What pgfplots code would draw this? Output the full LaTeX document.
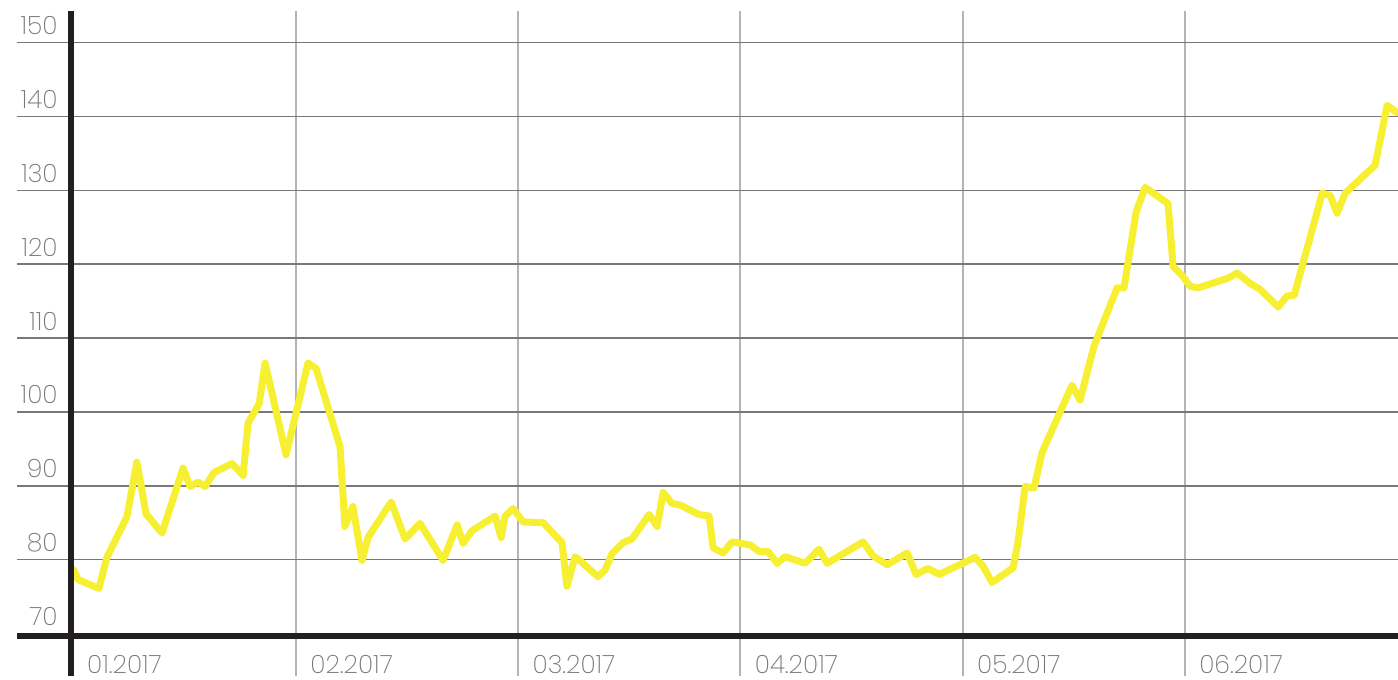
\documentclass[border=0pt]{standalone}
\usepackage{fontspec}
\setmainfont{Poppins}[UprightFont=* ExtraLight]
\usepackage{pgfplots}
\pgfplotsset{compat=1.18}
\definecolor{lineyellow}{RGB}{247,239,50}
\definecolor{axisblack}{RGB}{35,31,32}
\definecolor{hgrid}{RGB}{120,120,120}
\definecolor{vgrid}{RGB}{180,180,180}
\definecolor{labelgray}{RGB}{120,120,120}
\tikzset{lbl/.style={font=\fontsize{12.6pt}{15pt}\selectfont, text=labelgray, inner sep=0pt}}
\pgfplotstableread{
x y
0.000 78.6
0.019 77.3
0.113 76.1
0.149 80.3
0.239 85.8
0.284 93.2
0.325 86.2
0.397 83.6
0.492 92.4
0.523 89.9
0.559 90.5
0.591 89.9
0.631 91.8
0.712 93.0
0.762 91.4
0.784 98.5
0.834 101.1
0.861 106.6
0.955 94.2
1.054 106.6
1.090 105.9
1.198 95.3
1.220 84.5
1.256 87.2
1.297 79.9
1.324 83.0
1.428 87.8
1.491 82.8
1.558 84.9
1.662 79.9
1.725 84.7
1.752 82.2
1.792 83.9
1.896 85.9
1.923 83.0
1.941 85.9
1.977 86.9
2.022 85.1
2.112 85.0
2.197 82.3
2.219 76.4
2.256 80.4
2.359 77.7
2.391 78.6
2.422 80.8
2.472 82.3
2.512 82.8
2.589 86.1
2.625 84.5
2.652 89.1
2.692 87.6
2.728 87.4
2.814 86.1
2.859 85.9
2.877 81.6
2.922 80.9
2.962 82.4
3.043 82.0
3.084 81.1
3.124 81.1
3.165 79.5
3.201 80.4
3.290 79.5
3.353 81.4
3.390 79.5
3.552 82.4
3.597 80.5
3.660 79.3
3.750 80.9
3.790 78.0
3.844 78.8
3.894 78.0
4.056 80.3
4.092 79.1
4.132 76.9
4.227 78.9
4.249 82.4
4.281 89.9
4.321 89.7
4.357 94.5
4.492 103.6
4.528 101.6
4.591 108.9
4.695 116.8
4.726 116.8
4.780 127.0
4.821 130.4
4.924 128.2
4.947 119.7
4.987 118.5
5.023 117.0
5.060 116.8
5.194 118.1
5.235 118.8
5.298 117.3
5.338 116.6
5.420 114.2
5.460 115.7
5.492 115.8
5.618 129.6
5.654 129.3
5.685 126.9
5.721 129.6
5.856 133.4
5.910 141.5
5.955 140.5
}\pricedata
\begin{document}
\begin{tikzpicture}
\useasboundingbox (-35.5pt,-22pt) rectangle (663.5pt,318pt);
\begin{axis}[
  at={(0,0)}, anchor=south west,
  scale only axis, width=663.5pt, height=312.6pt,
  xmin=-0.0126, xmax=5.959, ymin=69.66, ymax=154.3,
  xtick={1,2,3,4,5}, ytick={80,90,100,110,120,130,140,150},
  xticklabels={}, yticklabels={},
  grid=major,
  x grid style={vgrid, line width=1pt},
  y grid style={hgrid, line width=0.75pt},
  axis line style={draw=none}, major tick length=0pt, tick style={draw=none},
  clip=false,
]
\pgfplotsinvokeforeach{80,90,100,110,120,130,140,150}{
  \draw[hgrid, line width=0.75pt] ([xshift=-27pt]axis cs:-0.0126,#1) -- (axis cs:-0.0126,#1);
}
\pgfplotsinvokeforeach{70,80,90,100,110,120,130,140,150}{
  \node[lbl, anchor=base east, xshift=-6.5pt, yshift=4pt] at (axis cs:-0.0126,#1) {#1};
}
\pgfplotsinvokeforeach{1,2,3,4,5}{
  \draw[vgrid, line width=1pt] ([yshift=-20pt]axis cs:#1,69.66) -- (axis cs:#1,69.66);
}
\node[lbl, anchor=base west, xshift=6.5pt, yshift=-18.8pt] at (axis cs:0,69.66) {01.2017};
\node[lbl, anchor=base west, xshift=7pt, yshift=-18.8pt] at (axis cs:1,69.66) {02.2017};
\node[lbl, anchor=base west, xshift=7pt, yshift=-18.8pt] at (axis cs:2,69.66) {03.2017};
\node[lbl, anchor=base west, xshift=7pt, yshift=-18.8pt] at (axis cs:3,69.66) {04.2017};
\node[lbl, anchor=base west, xshift=7pt, yshift=-18.8pt] at (axis cs:4,69.66) {05.2017};
\node[lbl, anchor=base west, xshift=7pt, yshift=-18.8pt] at (axis cs:5,69.66) {06.2017};
\addplot[lineyellow, line width=3.5pt, line join=round, line cap=round] table[x=x,y=y] {\pricedata};
\draw[axisblack, line width=2.75pt] (axis cs:-0.0126,154.3) -- ([yshift=-20pt]axis cs:-0.0126,69.66);
\draw[axisblack, line width=2.75pt] ([xshift=-27pt]axis cs:-0.0126,69.66) -- (axis cs:5.959,69.66);
\end{axis}
\end{tikzpicture}
\end{document}
